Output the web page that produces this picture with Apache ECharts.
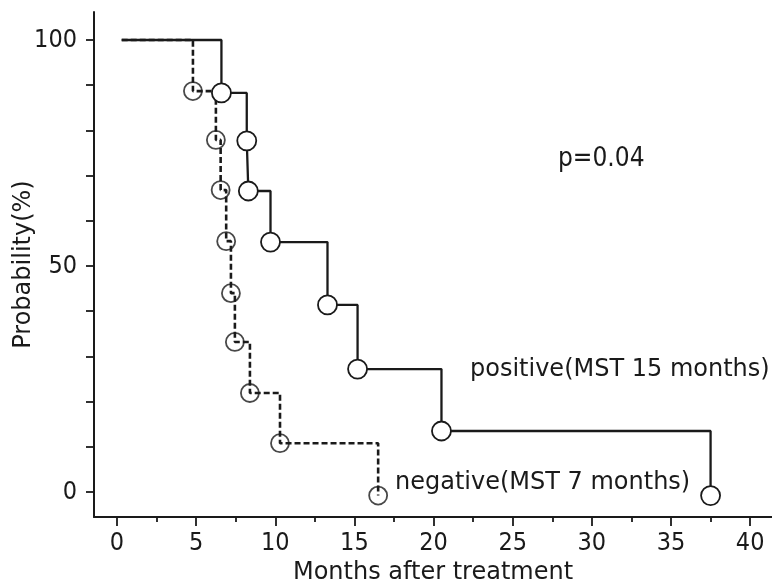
<!DOCTYPE html>
<html>
<head>
<meta charset="utf-8">
<title>Survival</title>
<style>
  html, body { margin: 0; padding: 0; background: #fff; }
  #chart { width: 772px; height: 586px; }
</style>
</head>
<body>
<div id="chart"></div>
<script src="https://cdn.jsdelivr.net/npm/echarts@6/dist/echarts.min.js"></script>
<script>
// values
var posMonths = [0.3, 6.6, 8.2, 8.3, 9.7, 13.3, 15.2, 20.5, 37.5];
var posSurv   = [100, 88.3, 77.7, 66.6, 55.3, 41.4, 27.2, 13.5, -0.8];
var negMonths = [0.3, 4.8, 6.25, 6.55, 6.9, 7.2, 7.45, 8.4, 10.3, 16.5];
var negSurv   = [100, 88.7, 77.9, 66.8, 55.5, 44.0, 33.2, 21.9, 10.8, -0.8];

var xMajor = [0, 5, 10, 15, 20, 25, 30, 35, 40];
var xMinor = [2.5, 7.5, 12.5, 17.5, 22.5, 27.5, 32.5, 37.5];
var yTicks = [0, 10, 20, 30, 40, 50, 60, 70, 80, 90, 100];
var yLabels = [0, 50, 100];

var ink = '#1a1a1a';
var narrow = "'Liberation Sans Narrow', 'DejaVu Sans Condensed', sans-serif";
var plain = "'DejaVu Sans', sans-serif";

var posData = posMonths.map(function (m, i) {
    var item = { value: [m, posSurv[i]] };
    if (i === 0) item.symbol = 'none';
    return item;
});
var negData = negMonths.map(function (m, i) { return [m, negSurv[i]]; });
var negPoints = negData.slice(1);

var chart = echarts.init(document.getElementById('chart'));
chart.setOption({
    animation: false,
    backgroundColor: '#fff',
    grid: { left: 94, right: 0, top: 12, bottom: 69, outerBoundsMode: 'none' },
    xAxis: [{
        type: 'value', min: -1.45, max: 41.38,
        axisLine: { onZero: false, lineStyle: { color: ink, width: 2 } },
        axisTick: { customValues: xMajor, length: 9, lineStyle: { color: ink, width: 1.8 } },
        axisLabel: { customValues: xMajor, margin: 14, fontSize: 25, fontFamily: narrow, color: ink },
        splitLine: { show: false },
        name: 'Months after treatment', nameLocation: 'middle', nameGap: 44,
        nameMoveOverlap: false,
        nameTextStyle: { fontSize: 24, fontFamily: plain, color: ink }
    }, {
        type: 'value', min: -1.45, max: 41.38, position: 'bottom',
        axisLine: { show: false, onZero: false },
        axisTick: { customValues: xMinor, length: 5, lineStyle: { color: ink, width: 1.8 } },
        axisLabel: { show: false },
        splitLine: { show: false }
    }],
    yAxis: {
        type: 'value', min: -5.53, max: 106.2,
        axisLine: { onZero: false, lineStyle: { color: ink, width: 2 } },
        axisTick: { customValues: yTicks, length: 8, lineStyle: { color: ink, width: 1.8 } },
        axisLabel: { customValues: yLabels, margin: 17, fontSize: 25, fontFamily: narrow, color: ink },
        splitLine: { show: false },
        name: 'Probability(%)', nameLocation: 'middle', nameRotate: 90, nameGap: 58,
        nameMoveOverlap: false,
        nameTextStyle: { fontSize: 24, fontFamily: plain, color: ink }
    },
    graphic: [
        { type: 'text', x: 558, y: 159, style: { text: 'p=0.04', fontSize: 26, fontFamily: narrow, fill: ink, verticalAlign: 'middle' } },
        { type: 'text', x: 470, y: 370, style: { text: 'positive(MST 15 months)', fontSize: 24, fontFamily: plain, fill: ink, verticalAlign: 'middle' } },
        { type: 'text', x: 395, y: 483, style: { text: 'negative(MST 7 months)', fontSize: 24, fontFamily: plain, fill: ink, verticalAlign: 'middle' } }
    ],
    series: [{
        name: 'negative points',
        type: 'scatter',
        z: 2,
        data: negPoints,
        symbol: 'circle',
        symbolSize: 18,
        itemStyle: { color: '#fff', borderColor: ink, borderWidth: 1.8 }
    }, {
        name: 'negative',
        type: 'line',
        z: 3,
        step: 'end',
        data: negData,
        showSymbol: false,
        lineStyle: { color: ink, width: 2.6, type: [6, 3] }
    }, {
        name: 'positive',
        type: 'line',
        z: 4,
        step: 'end',
        data: posData,
        symbol: 'circle',
        symbolSize: 19,
        showAllSymbol: true,
        lineStyle: { color: ink, width: 2.3 },
        itemStyle: { color: '#fff', borderColor: ink, borderWidth: 1.8 }
    }]
});
</script>
</body>
</html>
